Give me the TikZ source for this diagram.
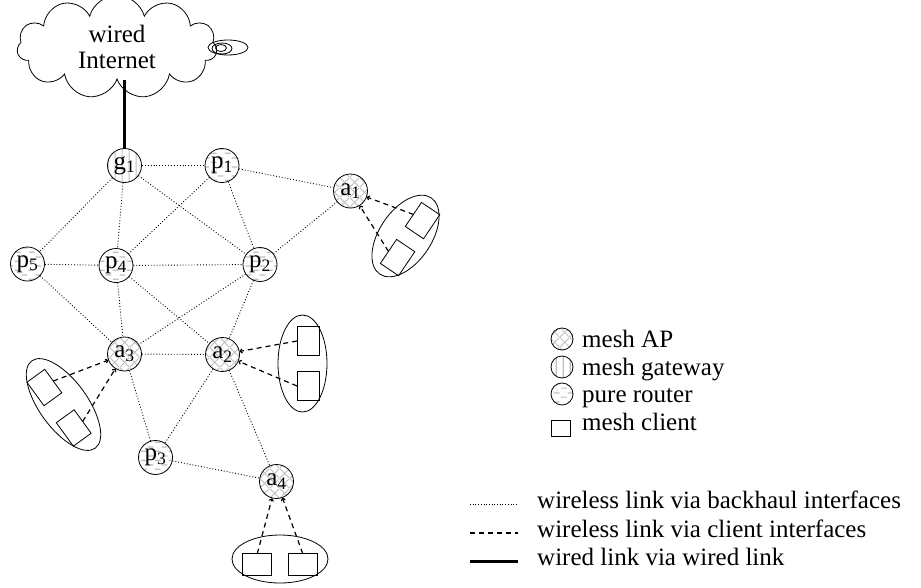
\documentclass[tikz,border=0pt]{standalone}
\usepackage{fontspec}
\setmainfont{Liberation Serif}
\usetikzlibrary{positioning,shapes.symbols,patterns,arrows.meta}

% hatchings for the three kinds of mesh node
\pgfdeclarepatternformonly{aphatch}{\pgfqpoint{0pt}{0pt}}{\pgfqpoint{10pt}{10pt}}{\pgfqpoint{10pt}{10pt}}{%
  \pgfsetlinewidth{0.9pt}%
  \pgfpathmoveto{\pgfqpoint{0pt}{0pt}}\pgfpathlineto{\pgfqpoint{10pt}{10pt}}%
  \pgfpathmoveto{\pgfqpoint{0pt}{10pt}}\pgfpathlineto{\pgfqpoint{10pt}{0pt}}%
  \pgfusepath{stroke}}
\pgfdeclarepatternformonly{gwhatch}{\pgfqpoint{0pt}{0pt}}{\pgfqpoint{7pt}{7pt}}{\pgfqpoint{7pt}{7pt}}{%
  \pgfsetlinewidth{1.3pt}%
  \pgfpathmoveto{\pgfqpoint{3.5pt}{-1pt}}\pgfpathlineto{\pgfqpoint{3.5pt}{8pt}}%
  \pgfusepath{stroke}}
\pgfdeclarepatternformonly{rthatch}{\pgfqpoint{0pt}{0pt}}{\pgfqpoint{14pt}{9pt}}{\pgfqpoint{14pt}{9pt}}{%
  \pgfsetlinewidth{1.3pt}%
  \pgfpathmoveto{\pgfqpoint{1pt}{2pt}}\pgfpathlineto{\pgfqpoint{7pt}{2pt}}%
  \pgfpathmoveto{\pgfqpoint{8pt}{6.5pt}}\pgfpathlineto{\pgfqpoint{14pt}{6.5pt}}%
  \pgfusepath{stroke}}

% clients in an oval: centre, turn, radii, half gap, name
\newcommand*{\clients}[6]{%
  \begin{scope}[shift={#1},rotate=#2]
    \draw[thick] (0,0) ellipse [x radius=#3, y radius=#4];
    \draw[thick] (-5.5,-#5-14.5) rectangle (16.5,-#5+14.5);
    \draw[thick] (-5.5,#5-14.5) rectangle (16.5,#5+14.5);
    \coordinate (#6-1) at (-5.5,-#5);
    \coordinate (#6-2) at (-5.5,#5);
  \end{scope}}

\begin{document}
\begin{tikzpicture}[x=1pt,y=-1pt,font=\fontsize{25}{26}\selectfont,
    mesh/.style={circle,draw,thick,minimum size=34pt,inner sep=0pt,preaction={fill=white}},
    ap/.style={mesh,pattern=aphatch,pattern color=gray!50},
    gw/.style={mesh,pattern=gwhatch,pattern color=gray!50},
    rt/.style={mesh,pattern=rthatch,pattern color=gray!50},
    mini/.style={minimum size=22pt},
    backhaul/.style={dotted,line width=0.9pt},
    access/.style={line width=1.2pt,dash pattern=on 5pt off 4pt,-{To[length=3pt,width=5pt]}},
    wired/.style={line width=3pt},
    key/.style={anchor=base west,inner sep=0pt}]
\useasboundingbox (0,0) rectangle (921,587);
% Internet cloud and its curl
\node[cloud,draw,thick,cloud puffs=11,aspect=2.3,minimum width=200pt,
      minimum height=85pt,align=center] (net) at (117,47) {wired\\Internet};
\draw[thick] (228,47.5) ellipse [x radius=20, y radius=7.5];
\draw[thick] (222,48.5) ellipse [x radius=10, y radius=5.5];
\draw[thick] (221,48) ellipse [x radius=5.5, y radius=3.5];
% Mesh nodes
\node[gw] (g1) at (124.5,165.5) {g\textsubscript{1}};
\node[rt] (p1) at (222,165.5) {p\textsubscript{1}};
\node[ap] (a1) at (350.5,191) {a\textsubscript{1}};
\node[rt] (p5) at (27.5,264) {p\textsubscript{5}};
\node[rt] (p4) at (116,265.5) {p\textsubscript{4}};
\node[rt] (p2) at (260,264.5) {p\textsubscript{2}};
\node[ap] (a3) at (124.5,354) {a\textsubscript{3}};
\node[ap] (a2) at (222.5,354.5) {a\textsubscript{2}};
\node[rt] (p3) at (155.5,457.5) {p\textsubscript{3}};
\node[ap] (a4) at (276.5,481.5) {a\textsubscript{4}};
% Wired uplink of the gateway
\draw[wired] (g1) -- (g1 |- net.south);
% Backhaul links
\foreach \u/\v in {g1/p1,g1/p5,g1/p4,g1/p2,p1/p4,p1/p2,p1/a1,p2/a1,p5/p4,p4/p2,
                   p5/a3,p4/a3,p4/a2,p2/a3,p2/a2,a3/a2,a3/p3,a2/p3,a2/a4,p3/a4}
  \draw[backhaul] (\u) -- (\v);
% Client groups and their access links
\clients{(405.5,236)}{-34}{26}{46}{22.3}{c1}
\clients{(302.5,363.5)}{0}{24.5}{48.5}{22.5}{c2}
\clients{(63.5,404.5)}{-144}{24}{54}{25}{c3}
\clients{(280,559)}{-90}{24}{48}{22.7}{c4}
\foreach \g/\ap in {c1/a1,c2/a2,c3/a3,c4/a4}{
  \draw[access] (\g-1) -- (\ap);
  \draw[access] (\g-2) -- (\ap);
}
% Legend of node kinds
\node[ap,mini] (k-ap) at (562,339) {};
\node[key] (t-ap) at (582,347) {mesh AP};
\node[gw,mini] (k-gw) at (562,367) {};
\node[key] (t-gw) at (582,375) {mesh gateway};
\node[rt,mini] (k-rt) at (562,394) {};
\node[key] (t-rt) at (582,402) {pure router};
\node[draw,thick,minimum width=19pt,minimum height=16pt,inner sep=0pt] (k-cl) at (561,428) {};
\node[key] (t-cl) at (582,430) {mesh client};
% Legend of link kinds
\coordinate (l1) at (470,504); \coordinate (r1) at (518,504);
\coordinate (l2) at (470,533); \coordinate (r2) at (518,533);
\coordinate (l3) at (470,561); \coordinate (r3) at (518,561);
\draw[backhaul,line width=0.7pt] (l1) -- (r1);
\draw[line width=1.2pt,dash pattern=on 5pt off 4pt] (l2) -- (r2);
\draw[wired] (l3) -- (r3);
\node[key] (t-bh) at (537,508) {wireless link via backhaul interfaces};
\node[key] (t-cl2) at (537,537) {wireless link via client interfaces};
\node[key] (t-wd) at (537,565) {wired link via wired link};
\end{tikzpicture}
\end{document}
